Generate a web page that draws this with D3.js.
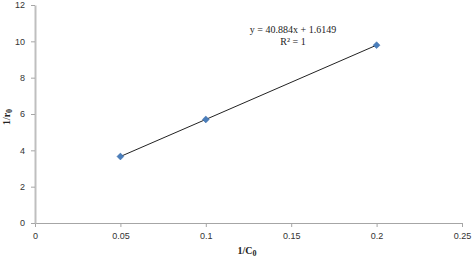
<!DOCTYPE html>
<html>
<head>
<meta charset="utf-8">
<script src="https://cdn.jsdelivr.net/npm/d3@7"></script>
<style>
    body { margin: 0; background: #fff; }
    .tick text { font-family: "Liberation Sans", Arial, sans-serif; font-size: 9px; fill: #333; }
</style>
</head>
<body>
<div id="chart"></div>
<script>
// data
let xValues = [0.05, 0.1, 0.2];
let yValues = [3.66, 5.70, 9.79];
let xTicks = [0, 0.05, 0.1, 0.15, 0.2, 0.25];
let yTicks = [0, 2, 4, 6, 8, 10, 12];
let equationLines = ["y = 40.884x + 1.6149", "R² = 1"];

let width = 472, height = 257;
let margin = {top: 5, right: 10, bottom: 34, left: 35};

let svg = d3.select("#chart").append("svg")
    .attr("width", width)
    .attr("height", height);

let x = d3.scaleLinear().domain([0, 0.25]).range([margin.left, width - margin.right]);
let y = d3.scaleLinear().domain([0, 12]).range([height - margin.bottom, margin.top]);

// x axis
let xAxis = svg.append("g")
    .attr("transform", `translate(0,${y(0)})`)
    .call(d3.axisBottom(x).tickValues(xTicks).tickSize(4).tickSizeOuter(0).tickPadding(6).tickFormat(d => d3.format("")(d)));
xAxis.select(".domain").attr("stroke", "#a6a6a6");
xAxis.selectAll(".tick line").attr("stroke", "#a6a6a6");

// y axis
let yAxis = svg.append("g")
    .attr("transform", `translate(${x(0)},0)`)
    .call(d3.axisLeft(y).tickValues(yTicks).tickSize(4).tickSizeOuter(0).tickPadding(6));
yAxis.select(".domain").attr("stroke", "#bfbfbf").attr("stroke-width", 2);
yAxis.selectAll(".tick line").attr("stroke", "#a6a6a6");

// trendline through points
let pts = xValues.map((d, i) => [d, yValues[i]]);
svg.append("path")
    .datum(pts)
    .attr("fill", "none")
    .attr("stroke", "#222")
    .attr("stroke-width", 1)
    .attr("d", d3.line().x(d => x(d[0])).y(d => y(d[1])));

// diamond markers
svg.selectAll(".pt")
    .data(pts)
    .enter().append("path")
    .attr("class", "pt")
    .attr("transform", d => `translate(${x(d[0])},${y(d[1])})`)
    .attr("d", d3.symbol().type(d3.symbolDiamond2).size(30))
    .attr("fill", "#4a7ebb")
    .attr("stroke", "#3a6aa8")
    .attr("stroke-width", 0.5);

// equation
svg.selectAll(".eq")
    .data(equationLines)
    .enter().append("text")
    .attr("class", "eq")
    .attr("x", 293)
    .attr("y", (d, i) => 33 + i * 12)
    .attr("text-anchor", "middle")
    .style("font-family", "Liberation Serif, Times New Roman, serif")
    .style("font-size", "10px")
    .style("fill", "#222")
    .text(d => d);

// axis titles
let xt = svg.append("text")
    .attr("x", 247)
    .attr("y", 254)
    .attr("text-anchor", "middle")
    .style("font-family", "Liberation Serif, Times New Roman, serif")
    .style("font-size", "10px")
    .style("font-weight", "bold")
    .style("fill", "#222");
xt.append("tspan").text("1/C");
xt.append("tspan").attr("dy", 2).style("font-size", "8px").text("0");

let yt = svg.append("text")
    .attr("transform", "translate(10,117) rotate(-90)")
    .attr("text-anchor", "middle")
    .style("font-family", "Liberation Serif, Times New Roman, serif")
    .style("font-size", "10px")
    .style("font-weight", "bold")
    .style("fill", "#222");
yt.append("tspan").text("1/r");
yt.append("tspan").attr("dy", 2).style("font-size", "8px").text("0");
</script>
</body>
</html>
